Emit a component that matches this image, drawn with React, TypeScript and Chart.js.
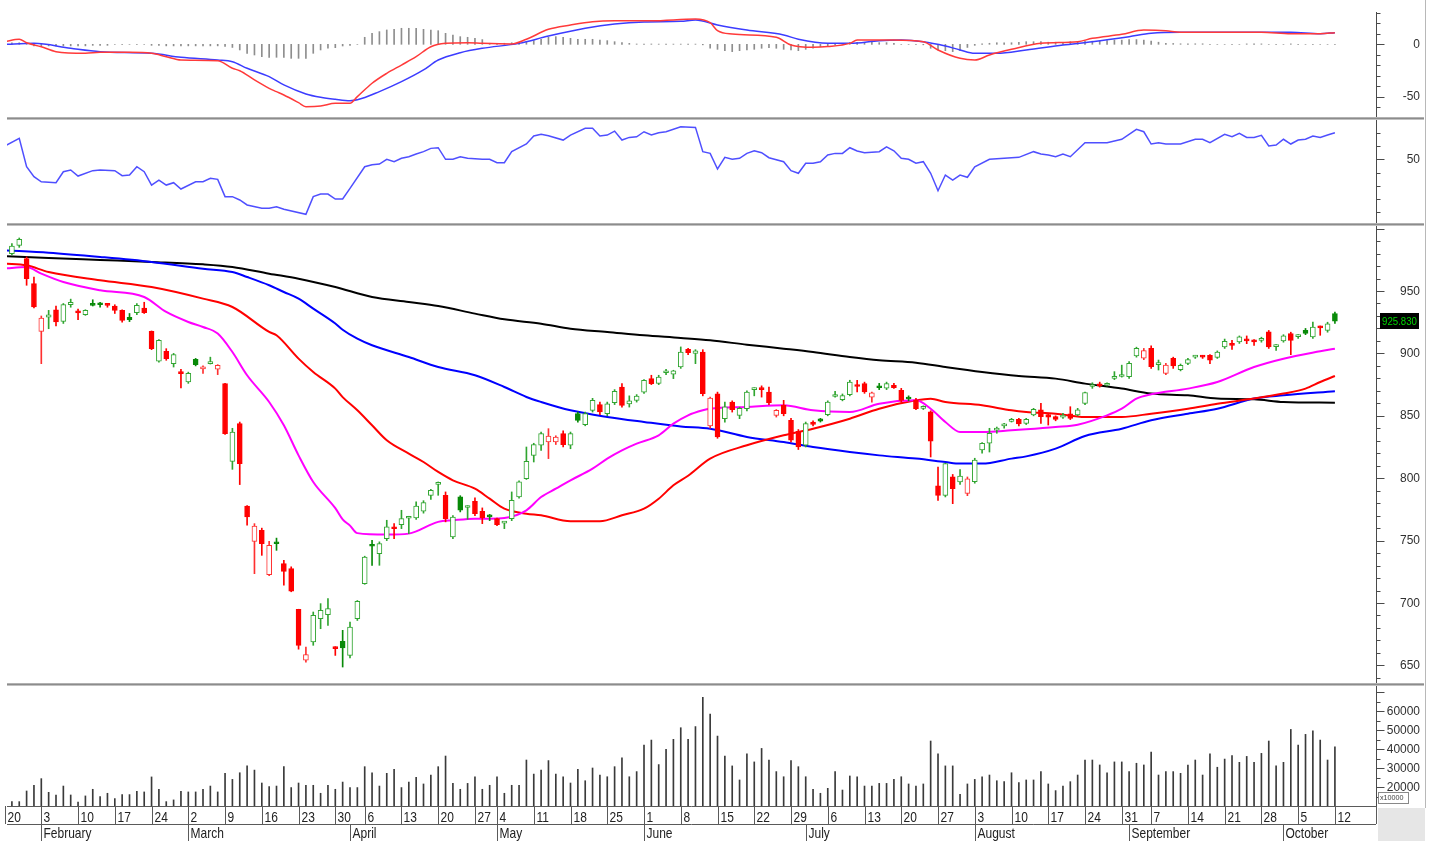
import React, { useEffect, useRef } from "react";
import { Chart, registerables } from "chart.js";

Chart.register(...registerables);

/* ---------------- trading calendar (HOSE 2020) ---------------- */
const FIRST_DAY = "2020-01-20";
const LAST_DAY = "2020-10-12";
const HOLIDAYS = ["2020-01-23", "2020-01-24", "2020-01-27", "2020-01-28", "2020-01-29", "2020-04-02", "2020-04-30", "2020-05-01", "2020-09-02"];
const MONTH_NAMES = ["January", "February", "March", "April", "May", "June", "July", "August", "September", "October", "November", "December"];

function buildTradingDays(): Date[] {
  const out: Date[] = [];
  const d = new Date(FIRST_DAY + "T00:00:00Z");
  const end = new Date(LAST_DAY + "T00:00:00Z");
  while (d <= end) {
    const wd = d.getUTCDay();
    const iso = d.toISOString().slice(0, 10);
    if (wd !== 0 && wd !== 6 && !HOLIDAYS.includes(iso)) out.push(new Date(d.getTime()));
    d.setUTCDate(d.getUTCDate() + 1);
  }
  return out;
}
const DAYS = buildTradingDays();

/* ---------------- price candles (index = trading day, 0 = Jan 20) ---------------- */
const OPEN: (number | null)[] = [
  null,
  980, 986.6, 975.9, 955.9, 917.6, 929, 935, 925.7, 939, 934,
  931, 940, 939.5, 939.5, 938, 934.5, 929, 932.7, 936.4, 917.7,
  893.7, 901.7, 891.8, 884.5, 877.1, 895.3, 887.5, 891.8, 887.3, 875.8,
  813.5, 843.7, 777.7, 749.4, 758.2, 722.7, 748.5, 731.5, 727.5, 694.9,
  654.1, 668.8, 687.4, 690.7, 664.7, 669.3, 658.1, 687.4, 715.5, 746.5,
  739.6, 751.6, 760.5, 762.8, 767.9, 768.1, 773.5, 786.3, 795, 786.3,
  752.9, 785, 776.5, 781.5, 773.5, 769.5, 767.6, 764, 767.6, 785,
  799.7, 818.3, 826.4, 829, 829, 835.7, 826.4, 851.7, 843, 854.4,
  859, 851.7, 860.5, 873.1, 859.5, 862.4, 869, 879.8, 876, 884.5,
  883.3, 889.1, 903.3, 900, 901.1, 841.9, 867.7, 847.7, 861.1, 850.4,
  855.7, 871, 872, 869.1, 850.4, 858.4, 846.4, 837.6, 826.4, 845,
  847.5, 851, 865.5, 863, 867, 874.5, 875.8, 865, 873, 872.1,
  874.5, 870.4, 865, 862.4, 856, 853.1, 793.8, 786.3, 801.1, 797,
  787.9, 797.2, 822.6, 828, 838.5, 842, 845.5, 847.2, 844, 850.7,
  854.7, 851, 849.4, 849, 851.5, 850.7, 860, 873.5, 875.5, 874.5,
  880, 881.5, 881.4, 898, 896.1, 904.1, 891, 884, 896, 887,
  892, 897, 897.8, 898.5, 896.8, 905.2, 907.5, 909.2, 911, 910.5,
  910.5, 917.2, 905.4, 910, 915.8, 913.5, 918.5, 913.2, 921.5, 918.5, 931.9,
];
const HIGH: (number | null)[] = [
  null,
  988, 992.5, 977.3, 961.2, 930, 934.5, 938, 940, 943.5, 935.5,
  935, 943, 941, 940, 939, 935, 932, 940, 941, 918,
  911, 903.8, 900, 887.3, 885, 896, 890, 897, 891, 876,
  840, 845, 778, 763.6, 760, 749.4, 752, 734.2, 729, 695,
  664.7, 692.8, 699.5, 703.5, 665, 678.1, 684.8, 702, 737.5, 750.2,
  749, 766.3, 763.6, 774.3, 769.5, 781, 782, 791, 797, 789,
  770, 786, 778, 784.2, 776.2, 771, 768, 765, 789, 798,
  825, 828, 837, 839.7, 834, 838, 837, 853, 853, 864,
  861, 861, 871, 875.8, 866, 867, 879, 882.5, 882.5, 887.3,
  886.5, 905.2, 904, 903, 903, 865, 869, 861, 862, 857,
  870, 872.5, 874, 873, 855, 862.4, 848, 839, 845, 846,
  848, 862, 869.6, 867.5, 878.5, 878.4, 877, 869, 876, 877,
  876, 872, 866, 864, 858, 854, 809, 812, 803, 807,
  801, 816, 828.5, 840, 841, 844, 848, 848, 848, 856,
  860, 852, 850, 852, 857.3, 856, 869, 876.5, 877, 876.5,
  885.4, 890.6, 893.5, 905, 904, 906, 894.7, 892, 897, 891.5,
  896, 898.5, 898.5, 899, 902, 911.5, 910.5, 914, 914, 911,
  913, 918.4, 907, 915, 917, 915, 920, 925.2, 922, 925, 933.2,
];
const LOW: (number | null)[] = [
  null,
  979, 985, 954.6, 936.4, 891.8, 919.8, 922, 924, 937, 927,
  930.5, 938, 937, 937, 932, 925, 925.5, 931, 932, 903,
  893, 894.5, 889.1, 872.3, 876, 890, 884, 891.5, 883, 835,
  807.1, 794.9, 762.3, 723.5, 738.2, 722, 742.2, 714.2, 709, 663,
  652.5, 666.1, 679.4, 682, 658, 648.7, 656, 686, 715, 730.2,
  730.2, 750, 751.6, 759.6, 755.6, 767, 772, 783, 786.3, 765,
  751.6, 773, 767.1, 770, 763.6, 766, 762, 759.6, 766, 784,
  799, 813, 822.3, 815.7, 827, 825, 823.6, 845, 842, 853,
  851, 850, 859, 857, 857, 861, 868, 875, 875, 883,
  879.8, 888, 899, 891.8, 866, 840, 832, 845, 853, 847.7,
  854, 866, 865, 859, 849, 850, 829, 823, 825, 842,
  845, 850, 865, 862, 866, 869.1, 868, 861, 871, 871,
  872, 861, 862, 855, 855, 817, 782.3, 785, 779.6, 795,
  786, 796, 820, 821, 836, 840, 845, 842, 843, 850,
  844, 842.6, 846, 848, 847, 850, 859, 872, 873, 874,
  879, 881, 880, 897, 895, 888, 886.7, 883, 888, 886,
  891, 896, 896, 891.8, 896, 904, 903.3, 908, 907.8, 906.5,
  909, 904, 902.5, 909, 899, 912, 915, 912, 914.5, 917, 924,
];
const CLOSE: (number | null)[] = [
  null,
  986, 991.4, 959.9, 937.2, 928.4, 931, 925.2, 939.1, 941, 932.5,
  934.5, 938.5, 939, 938.5, 934.5, 926.5, 927, 938.5, 932.7, 903.8,
  910.5, 895.8, 899, 883.8, 884, 891, 889.3, 892.5, 890.5, 835.7,
  837, 811.7, 769, 761.7, 747.6, 746.2, 747.5, 725.4, 709.4, 666.1,
  658.6, 690.1, 694.1, 695.5, 663.4, 664, 680.8, 701.4, 736.9, 745.5,
  747.6, 761, 759.5, 767.6, 769, 777.7, 780.4, 790.3, 796.4, 767.6,
  768.9, 774.3, 777, 771.6, 768.1, 769, 762.8, 764.4, 782.3, 797,
  813.5, 826.9, 835.7, 833.8, 833, 826.9, 835.7, 846.4, 851.7, 862.4,
  853.1, 859.7, 869.6, 858.4, 862, 865.8, 878.4, 875.8, 881.1, 885.5,
  886, 901.1, 900.6, 902, 867.7, 864.3, 833, 857.1, 855, 856,
  869.1, 872, 871, 860.5, 854.4, 851.7, 830.4, 825, 843.7, 843.2,
  845.8, 861.1, 866, 866.2, 877.1, 873.5, 869.1, 868.5, 872.5, 875.8,
  872.5, 862.4, 863.5, 855.7, 857, 829.6, 786.3, 811.7, 791.6, 801.8,
  799.5, 814.6, 827.9, 836, 839.5, 842.5, 846, 843.5, 847.2, 855.2,
  849.4, 849, 847.2, 850.5, 848, 854.7, 868.6, 874.5, 874, 875.5,
  880.5, 883, 892.1, 904, 902.2, 889.4, 891.5, 890.7, 890, 890.5,
  895, 897.5, 897, 894.5, 901.1, 909.7, 906.5, 913.2, 910, 909.3,
  912, 905.2, 906, 914, 910.5, 914, 916, 921.2, 920.5, 923.8, 925.83,
];

/* ---------------- volume ---------------- */
const VOLUME: (number | null)[] = [
  null,
  12300, 12300, 17900, 20900, 24400, 17200, 15800, 20500, 15800, 12100,
  15300, 18800, 14900, 16700, 13900, 16000, 16000, 17700, 17400, 25300,
  18800, 12300, 13200, 17700, 17400, 17400, 18800, 20500, 17400, 27200,
  24000, 27500, 31100, 28900, 22100, 20200, 20500, 30700, 19700, 22100,
  20900, 20900, 16700, 20900, 18800, 22600, 19700, 19700, 30700, 27500,
  20500, 27200, 29300, 19700, 22600, 25100, 21600, 26300, 30700, 36300,
  21900, 18800, 21900, 25400, 18800, 20900, 25400, 16700, 20900, 20900,
  34200, 26800, 28900, 33900, 26800, 25400, 22100, 29300, 23300, 30000,
  26300, 25400, 30700, 35400, 25400, 28100, 42100, 44700, 31800, 39800,
  45100, 51200, 45100, 51800, 67200, 58400, 46800, 36300, 31100, 23700,
  37400, 33200, 40300, 34200, 28100, 25400, 33900, 30700, 25400, 18800,
  16700, 19300, 28100, 18400, 25800, 25400, 20500, 20500, 21900, 21900,
  24000, 25400, 21600, 20500, 21600, 44200, 37400, 31100, 31100, 16100,
  21600, 24000, 25400, 26300, 23300, 22800, 27500, 22300, 23700, 23700,
  28100, 21600, 18100, 20500, 22800, 26300, 34200, 34200, 31600, 27500,
  33200, 33200, 28100, 32500, 31600, 38400, 26300, 28100, 28100, 27200,
  31600, 34200, 26300, 37400, 30400, 34700, 36500, 33000, 36100, 33000,
  37700, 44200, 31100, 33000, 50300, 42100, 47700, 49600, 44700, 34200, 41200,
];

/* ---------------- moving averages [day index, value] ---------------- */
type Pair = [number, number];
const MA_LONG: Pair[] = [
  [0, 978], [6, 976.5], [13, 974.9], [20, 973.3], [27, 971.4], [31, 969.3], [36, 963.9], [40, 959.9], [45, 953.2],
  [50, 945.2], [55, 941.2], [59, 938], [64, 931.9], [68, 927.3], [73, 923.8], [77, 919.8], [82, 917.2], [87, 914.5],
  [92, 912.4], [96, 910.5], [101, 907], [106, 903.8], [110, 901.1], [115, 897.1], [119, 894.5], [124, 892.6],
  [128, 889.1], [133, 885.1], [138, 881.9], [143, 879.8], [147, 875.8], [152, 871.8], [156, 867.8], [161, 866.4],
  [165, 863.8], [170, 863.2], [174, 861.1], [181, 860.5],
];
const MA_BLUE: Pair[] = [
  [0, 982.6], [6, 980.7], [13, 977.3], [20, 973.3], [27, 967.9], [31, 965.2], [33, 961.2], [36, 954.6], [38, 949.2],
  [40, 943.9], [42, 935.9], [45, 924], [46, 919], [48, 911.8], [50, 906.5], [55, 897.1], [59, 889.1], [64, 882.5],
  [68, 873.1], [71, 865.1], [73, 861.1], [77, 854.4], [82, 849.1], [87, 845.1], [92, 841.5], [96, 839.7],
  [101, 833.1], [106, 829], [110, 825], [115, 821], [119, 818.3], [124, 815.7], [128, 813], [130, 811.7],
  [133, 811.7], [137, 815.7], [139, 817.5], [143, 823.7], [147, 833.8], [152, 839.7], [156, 846.4], [161, 851.7],
  [165, 855.7], [170, 863.8], [174, 866.4], [181, 869.6],
];
const MA_RED: Pair[] = [
  [0, 972], [3, 970.6], [6, 965.2], [13, 958.6], [20, 953.2], [27, 943.9], [31, 937.2], [36, 917.2], [37, 914.5],
  [40, 895.8], [42, 885.1], [45, 871.8], [46, 865], [48, 854.4], [50, 842.4], [52, 830.4], [55, 819.7], [57, 813],
  [59, 805], [61, 798.3], [64, 791.6], [66, 783.6], [68, 775.6], [71, 771.6], [73, 770.3], [77, 765.5], [81, 765.5],
  [84, 770.3], [87, 775.6], [89, 783.6], [91, 794.3], [93, 802], [96, 815.7], [101, 826.4], [106, 834.4],
  [110, 839.7], [115, 847.7], [119, 855.7], [124, 862.4], [126, 863.7], [128, 861.1], [133, 858.4], [137, 854.4],
  [139, 853.1], [143, 851.7], [147, 849.1], [152, 849.1], [156, 851.7], [161, 855.7], [165, 859.7], [170, 863.8],
  [174, 867.8], [177, 871.8], [179, 877.1], [181, 881.9],
];
const MA_MAGENTA: Pair[] = [
  [0, 968], [3, 969.3], [5, 963.9], [8, 957.2], [13, 950.6], [19, 945.2], [22, 933.2], [25, 925.2], [27, 921.2],
  [29, 915.9], [31, 901.1], [33, 882.5], [36, 861.1], [38, 842.4], [40, 818.3], [42, 797], [45, 776], [46, 767],
  [47, 762], [48, 756], [52, 754.8], [55, 755.6], [59, 765], [61, 766.3], [64, 767.6], [66, 767.6], [68, 768.1],
  [71, 774.3], [73, 784.9], [75, 791.6], [77, 798.3], [80, 807.7], [82, 815.7], [84, 822.3], [86, 827.7],
  [89, 834.4], [91, 843.7], [93, 850.4], [95, 854.4], [96, 855.7], [101, 857.1], [106, 858.4], [110, 854.4],
  [115, 853.1], [119, 859.7], [124, 862.4], [126, 855.7], [128, 845.1], [130, 837.1], [133, 837.1], [137, 838.4],
  [139, 839.2], [143, 841.1], [146, 842.9], [150, 850.4], [152, 855.7], [154, 863.7], [156, 867.2], [161, 871.8],
  [165, 877.1], [170, 889.1], [174, 895.8], [179, 901.7], [181, 903.8],
];

/* ---------------- MACD ---------------- */
const MACD_LINE: Pair[] = [
  [0, 2.5], [2, 4.8], [3, 1.5], [5, -2.3], [7, -7], [11, -8.6], [13, -7.7], [17, -7.7], [20, -8.6], [22, -11.8],
  [24, -15], [29, -15.6], [31, -22.9], [32, -25.2], [34, -34], [36, -42], [37, -45.2], [38, -48.4], [40, -55.7],
  [41, -59.5], [43, -58.9], [45, -56.3], [47, -56.3], [48, -50], [50, -37.2], [52, -27.7], [54, -19.8], [56, -11.8],
  [58, -2.3], [60, 0.9], [63, 1.5], [65, 0.9], [69, 0.3], [71, 4.8], [74, 14.3], [77, 18.4], [80, 21.6], [83, 22.5],
  [88, 22.5], [94, 24.1], [96, 20.6], [97, 13], [99, 9.8], [105, 6.7], [107, -0.7], [110, -2.9], [112, -2.2],
  [115, 0.9], [116, 4.1], [121, 4.1], [125, 2.5], [127, -5.4], [130, -13.4], [132, -15], [134, -10.2], [137, -4.8],
  [141, 0.9], [146, 2.5], [148, 5.7], [152, 9.5], [155, 13.6], [158, 13], [160, 11.5], [171, 11.5], [175, 10.1],
  [179, 10.1], [181, 11.1],
];
const MACD_SIGNAL: Pair[] = [
  [0, 0], [4, 0.9], [9, -3.8], [13, -7], [20, -8.6], [24, -12.4], [29, -15], [31, -16.6], [33, -22.9], [36, -30.9],
  [38, -38.8], [41, -47.4], [43, -50.6], [45, -52.5], [47, -53.8], [48, -53], [51, -45.2], [54, -35.7], [57, -24.5],
  [59, -15], [62, -8], [65, -3.8], [70, 0.9], [74, 7.9], [79, 15.3], [83, 19.4], [87, 21.3], [92, 21.9], [94, 23.2],
  [97, 18.4], [101, 13.6], [106, 8.9], [108, 4.8], [112, 0.9], [115, 0.9], [119, 3.5], [122, 4.1], [125, 2.5],
  [128, -1.6], [130, -5.4], [132, -8.6], [135, -8.6], [139, -5.4], [144, -0.7], [148, 2.5], [153, 7.3],
  [156, 10.5], [160, 11.5], [175, 11.5], [179, 10.1], [181, 11.1],
];
const MACD_HIST: (number | null)[] = [
  null,
  1.5, 1.5, 1, -1.5, -1.5, -1.5, -1.5, -1.5, -1.5, -1.5,
  -1.5, -1, -1, -1, 0, 0, 0, 0, 0, -1,
  -1, -1.5, -1.5, -1.5, -1.5, -1.5, -1.5, -1.5, -1.5, -2,
  -3, -5.4, -8.6, -10.2, -11.8, -12.4, -12.4, -12.4, -13.4, -13.4,
  -13.4, -8.6, -5.4, -3.8, -3.2, -1.6, -1, 0, 6.7, 10.5,
  12.1, 13.7, 14.3, 15.3, 15.3, 15.3, 14.3, 13.7, 13, 10.5,
  8.9, 7.3, 6.7, 5.7, 4.5, 1, 1, 1, 1.5, 2,
  2.5, 3.5, 4.8, 6.7, 7.3, 6.7, 5.7, 4.8, 4.8, 4.8,
  4.1, 3.5, 2.5, 1.6, 0.9, 0.3, 0.3, 0.3, 0.2, 0.2,
  0.2, 0.2, 0.2, 0.2, -0.5, -3.8, -4.8, -6.1, -7, -6.1,
  -5.4, -4.8, -3.8, -3.2, -3.8, -4.8, -5.4, -6.1, -4.8, -3.8,
  -2.2, -1.3, -0.6, 0, 1.6, 1.9, 1.9, 1.9, 1.6, 1.6,
  0.9, 0, 0, 0, -0.5, -3.8, -5.4, -6.1, -7, -6,
  -3, -1, 0.5, 1, 1.5, 1.5, 1.5, 2, 2.5, 2.5,
  2.5, 2, 2, 2, 2.5, 2.5, 3, 3, 3, 3.5,
  4, 4, 4.5, 4.5, 4, 3, 2, 1, 0.8, 0.5,
  0.5, 0.5, 0.5, 0, 0, 0, 0, 0, 0.4, 0.4,
  0.4, 0, 0, 0, 0.4, 0, 0, 0, 0, 0, 0,
];

/* ---------------- RSI ---------------- */
const RSI: Pair[] = [
  [0, 60], [2, 65.9], [3, 44.4], [4, 36.8], [5, 33], [7, 32.3], [8, 40.6], [9, 41.9], [10, 37.3], [12, 41.4],
  [13, 41.9], [15, 41.4], [16, 37.6], [17, 38.1], [18, 44.4], [19, 40.6], [20, 30.5], [21, 34.3], [22, 30.5],
  [23, 32.3], [24, 27.5], [26, 33], [27, 33], [28, 35.6], [29, 34.8], [30, 21.7], [31, 21.7], [32, 19.2], [33, 15.4],
  [35, 12.9], [36, 12.9], [37, 14.1], [38, 12.1], [41, 8.3], [42, 21.7], [43, 23.7], [44, 23.7], [45, 19.9],
  [46, 19.9], [47, 28], [49, 44.4], [50, 45.9], [51, 46.4], [52, 50], [53, 48.2], [54, 50.8], [55, 52], [56, 54],
  [57, 55.8], [58, 58.3], [59, 58.8], [60, 50], [61, 50], [62, 52], [63, 50.8], [65, 50], [66, 50], [67, 47.4],
  [68, 47.4], [69, 55.8], [71, 61.6], [72, 67.7], [73, 68.9], [74, 67.9], [76, 64.6], [77, 68.4], [79, 73.5],
  [80, 73.5], [81, 67.7], [82, 68.4], [83, 71.4], [84, 64.6], [85, 66.6], [86, 67.1], [87, 70.9], [88, 68.4],
  [89, 70.2], [90, 70.9], [92, 74.7], [94, 74.2], [95, 55.8], [96, 54.5], [97, 42.7], [98, 51.5], [99, 50],
  [100, 50.8], [101, 54.5], [102, 56.5], [103, 55], [104, 51.2], [106, 48.2], [107, 41.4], [108, 39.4], [109, 47],
  [110, 47], [111, 48.2], [112, 53.3], [113, 54.5], [114, 54.5], [115, 58.8], [116, 56.3], [117, 55], [119, 55.8],
  [120, 59.5], [121, 56.5], [122, 50.8], [123, 50], [124, 47], [125, 48.2], [126, 39.4], [127, 26.2], [128, 38.1],
  [129, 34.3], [130, 38.1], [131, 36.4], [132, 44.4], [134, 50], [135, 50.5], [138, 51.5], [140, 55.8], [141, 54],
  [142, 53.3], [143, 52], [144, 54], [145, 52], [147, 62.6], [150, 62.6], [152, 65.2], [154, 72.7], [155, 70.9],
  [156, 61.6], [157, 62.6], [158, 61.6], [160, 61.6], [162, 65.2], [163, 65.2], [164, 62.6], [166, 68.9],
  [167, 67.1], [168, 69.7], [169, 66.6], [170, 66.6], [171, 68.2], [172, 60.1], [173, 60.8], [174, 65.2],
  [175, 61.6], [176, 64.6], [177, 65.2], [178, 67.7], [179, 66.6], [180, 68.4], [181, 70.2],
];

/* ---------------- axis ticks ---------------- */
const MACD_LABELS = [0, -50];
const RSI_LABELS = [50];
const PRICE_LABELS = [650, 700, 750, 800, 850, 900, 950];
const VOLUME_LABELS = [20000, 30000, 40000, 50000, 60000];

/* ---------------- layout ---------------- */
const W = 1438;
const H = 841;
const PLOT_LEFT = 7;
const PLOT_RIGHT = 1376;
const LABEL_RIGHT = 1420;
const X_MIN = 0.333;
const X_MAX = 186.59;
const FONT = "'Liberation Sans', Arial, sans-serif";

const GREEN_UP = "#30a530";
const GREEN_FILLED = "#088a08";
const RED_HOLLOW = "#ff3030";
const RED_FILLED = "#ff0000";

function narrowText(ctx: CanvasRenderingContext2D, text: string, x: number, y: number, sx: number, align: CanvasTextAlign) {
  ctx.save();
  ctx.translate(x, y);
  ctx.scale(sx, 1);
  ctx.textAlign = align;
  ctx.fillText(text, 0, 0);
  ctx.restore();
}

function rightAxis(cfg: { minor: number; major: number; labels: number[]; lineTop?: number }) {
  return {
    id: "rightAxis",
    afterDraw(chart: any) {
      const { ctx, chartArea } = chart;
      const y = chart.scales.y;
      const top = cfg.lineTop ?? chartArea.top;
      const ax = PLOT_RIGHT + 0.5;
      ctx.save();
      ctx.strokeStyle = "#4a4a4a";
      ctx.lineWidth = 1;
      ctx.beginPath();
      ctx.moveTo(ax, top);
      ctx.lineTo(ax, chartArea.bottom);
      ctx.stroke();
      const first = Math.ceil(y.min / cfg.minor);
      const last = Math.floor(y.max / cfg.minor);
      for (let k = first; k <= last; k++) {
        const v = k * cfg.minor;
        const py = Math.round(y.getPixelForValue(v)) + 0.5;
        if (py < top || py > chartArea.bottom) continue;
        const major = v % cfg.major === 0;
        ctx.beginPath();
        ctx.moveTo(ax, py);
        ctx.lineTo(ax + (major ? 8 : 4), py);
        ctx.stroke();
      }
      ctx.fillStyle = "#303030";
      ctx.font = "13px " + FONT;
      ctx.textBaseline = "middle";
      for (const v of cfg.labels) narrowText(ctx, String(v), LABEL_RIGHT, y.getPixelForValue(v), 0.92, "right");
      ctx.restore();
    },
  };
}

function baseOptions(min: number, max: number, padBottom: number) {
  return {
    responsive: false,
    animation: false as const,
    events: [] as any[],
    layout: { padding: { left: PLOT_LEFT, right: W - PLOT_RIGHT, top: 0, bottom: padBottom } },
    plugins: { legend: { display: false }, tooltip: { enabled: false } },
    scales: {
      x: { type: "linear" as const, min: X_MIN, max: X_MAX, display: false, offset: false },
      y: { type: "linear" as const, min, max, display: false },
    },
  };
}

const toPts = (pairs: Pair[]) => pairs.map(([x, y]) => ({ x, y }));
const dayIdx = () => OPEN.map((o, i) => (o == null ? -1 : i)).filter((i) => i >= 0);

function lineDS(pairs: Pair[], color: string, width: number, order: number, smooth = true) {
  return {
    type: "line" as const,
    data: toPts(pairs),
    borderColor: color,
    borderWidth: width,
    pointRadius: 0,
    fill: false,
    tension: 0,
    cubicInterpolationMode: smooth ? ("monotone" as const) : ("default" as const),
    order,
  };
}

function candleStyle(i: number) {
  const c = CLOSE[i] as number;
  const o = OPEN[i] as number;
  const prev = CLOSE[i - 1] ?? o;
  const up = c >= prev;
  const hollow = c >= o;
  const col = up ? (hollow ? GREEN_UP : GREEN_FILLED) : hollow ? RED_HOLLOW : RED_FILLED;
  return { col, hollow };
}

/* ---------------- chart configs ---------------- */
function macdConfig() {
  const idx = dayIdx();
  return {
    type: "line" as const,
    data: {
      datasets: [
        lineDS(MACD_LINE, "#ff3a3a", 1.5, 0),
        lineDS(MACD_SIGNAL, "#3c3cff", 1.5, 1),
        {
          type: "bar" as const,
          data: idx.map((i) => ({ x: i, y: MACD_HIST[i] })),
          backgroundColor: "#8e8e8e",
          barThickness: 1,
          grouped: false,
          order: 2,
        },
      ],
    },
    options: baseOptions(-69.4, 42.3, 0),
    plugins: [rightAxis({ minor: 10, major: 50, labels: MACD_LABELS, lineTop: 12 })],
  };
}

function rsiConfig() {
  return {
    type: "line" as const,
    data: { datasets: [lineDS(RSI, "#4f4fff", 1.5, 0, false)] },
    options: baseOptions(1.74, 79.8, 0),
    plugins: [rightAxis({ minor: 10, major: 50, labels: RSI_LABELS })],
  };
}

const closeLabel = {
  id: "closeLabel",
  afterDraw(chart: any) {
    const { ctx } = chart;
    const y = chart.scales.y;
    const last = CLOSE[CLOSE.length - 1] as number;
    const py = Math.round(y.getPixelForValue(last));
    ctx.save();
    ctx.fillStyle = "#000";
    ctx.fillRect(1380, py - 8, 39, 16);
    ctx.fillStyle = "#00d400";
    ctx.font = "11px " + FONT;
    ctx.textBaseline = "middle";
    narrowText(ctx, last.toFixed(3), 1399.5, py + 0.5, 0.88, "center");
    ctx.restore();
  },
};

function priceConfig() {
  const idx = dayIdx();
  const styles = idx.map(candleStyle);
  return {
    type: "line" as const,
    data: {
      datasets: [
        {
          type: "bar" as const,
          data: idx.map((i) => ({ x: i, y: [OPEN[i], CLOSE[i]] })),
          backgroundColor: styles.map((s) => (s.hollow ? "#ffffff" : s.col)),
          borderColor: styles.map((s) => s.col),
          borderWidth: 1,
          borderSkipped: false,
          barThickness: 5,
          minBarLength: 2,
          grouped: false,
          order: 0,
        },
        {
          type: "bar" as const,
          data: idx.map((i) => ({ x: i, y: [LOW[i], HIGH[i]] })),
          backgroundColor: styles.map((s) => s.col),
          borderWidth: 0,
          barThickness: 1,
          minBarLength: 1,
          grouped: false,
          order: 1,
        },
        lineDS(MA_MAGENTA, "#ff00ff", 2, 2),
        lineDS(MA_RED, "#ff0000", 2, 3),
        lineDS(MA_BLUE, "#0000ff", 2, 4),
        lineDS(MA_LONG, "#000000", 2, 5),
      ],
    },
    options: baseOptions(635.9, 1002.1, 0),
    plugins: [rightAxis({ minor: 10, major: 50, labels: PRICE_LABELS }), closeLabel],
  };
}

const dateAxis = {
  id: "dateAxis",
  afterDraw(chart: any) {
    const { ctx, chartArea } = chart;
    const xs = chart.scales.x;
    const yBase = chartArea.bottom;
    const yRow = yBase + 18;
    const yEnd = chart.height;
    ctx.save();
    // bottom-right grey box
    ctx.fillStyle = "#e6e6e6";
    ctx.fillRect(PLOT_RIGHT + 2, yBase + 2, 1425 - PLOT_RIGHT - 2, yEnd - yBase - 2);
    ctx.strokeStyle = "#5a5a5a";
    ctx.lineWidth = 1;
    ctx.beginPath();
    ctx.moveTo(PLOT_LEFT, yBase + 0.5);
    ctx.lineTo(PLOT_RIGHT, yBase + 0.5);
    ctx.moveTo(PLOT_LEFT, yRow + 0.5);
    ctx.lineTo(PLOT_RIGHT, yRow + 0.5);
    ctx.moveTo(PLOT_RIGHT + 0.5, yBase);
    ctx.lineTo(PLOT_RIGHT + 0.5, yRow);
    ctx.stroke();
    ctx.fillStyle = "#222";
    ctx.font = "15px " + FONT;
    ctx.textBaseline = "alphabetic";
    DAYS.forEach((d, i) => {
      const px = Math.round(xs.getPixelForValue(i)) + 0.5;
      if (d.getUTCDay() === 1) {
        ctx.beginPath();
        ctx.moveTo(px, yBase);
        ctx.lineTo(px, yRow);
        ctx.stroke();
        narrowText(ctx, String(d.getUTCDate()), px + 2, yBase + 15.5, 0.8, "left");
      }
      if (i > 0 && DAYS[i - 1].getUTCMonth() !== d.getUTCMonth()) {
        ctx.beginPath();
        ctx.moveTo(px, yRow);
        ctx.lineTo(px, yEnd);
        ctx.stroke();
        narrowText(ctx, MONTH_NAMES[d.getUTCMonth()], px + 2, yRow + 14, 0.8, "left");
      }
    });
    // x10000 unit box
    ctx.fillStyle = "#fff";
    ctx.fillRect(1378, yBase - 14, 31, 12);
    ctx.strokeStyle = "#888";
    ctx.strokeRect(1378.5, yBase - 13.5, 30, 11);
    ctx.fillStyle = "#444";
    ctx.font = "8px " + FONT;
    ctx.textBaseline = "middle";
    narrowText(ctx, "x10000", 1380, yBase - 8, 0.9, "left");
    ctx.restore();
  },
};

function volumeConfig() {
  const idx = dayIdx();
  return {
    type: "line" as const,
    data: {
      datasets: [
        {
          type: "bar" as const,
          data: idx.map((i) => ({ x: i, y: VOLUME[i] })),
          backgroundColor: "#3a3a3a",
          barThickness: 1,
          grouped: false,
        },
      ],
    },
    options: baseOptions(10000, 73158, 35),
    plugins: [rightAxis({ minor: 5000, major: 10000, labels: VOLUME_LABELS }), dateAxis],
  };
}

/* ---------------- components ---------------- */
function Panel({ top, height, build }: { top: number; height: number; build: () => any }) {
  const ref = useRef<HTMLCanvasElement>(null);
  useEffect(() => {
    const chart = new Chart(ref.current as HTMLCanvasElement, build());
    return () => chart.destroy();
  }, []);
  return (
    <canvas
      ref={ref}
      width={W}
      height={height}
      style={{ position: "absolute", left: 0, top, width: W, height, display: "block" }}
    />
  );
}

function Separator({ y }: { y: number }) {
  return (
    <div
      style={{
        position: "absolute",
        left: PLOT_LEFT,
        top: y,
        width: 1424 - PLOT_LEFT,
        height: 3,
        background: "linear-gradient(#c4c4c4, #8c8c8c 50%, #dcdcdc)",
      }}
    />
  );
}

export default function App() {
  return (
    <div style={{ position: "absolute", left: 0, top: 0, width: W, height: H, background: "#fff", overflow: "hidden" }}>
      <Panel top={0} height={117} build={macdConfig} />
      <Separator y={117} />
      <Panel top={120} height={103} build={rsiConfig} />
      <Separator y={223} />
      <Panel top={226} height={457} build={priceConfig} />
      <Separator y={683} />
      <Panel top={686} height={155} build={volumeConfig} />
      <div style={{ position: "absolute", left: 1425, top: 0, width: 1, height: 808, background: "#b8b8b8" }} />
    </div>
  );
}
